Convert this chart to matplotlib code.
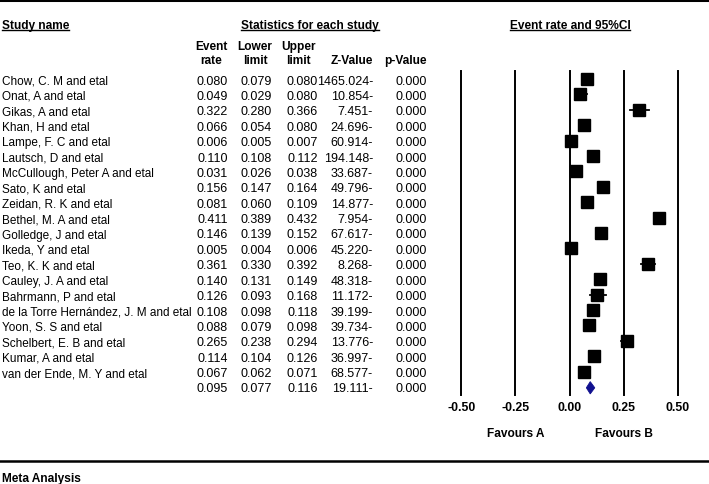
import matplotlib
matplotlib.use("Agg")
import matplotlib.pyplot as plt
from matplotlib.transforms import blended_transform_factory
from matplotlib.lines import Line2D

plt.rcParams['font.family'] = ['Liberation Sans', 'DejaVu Sans']

studies = [
    "Chow, C. M and etal", "Onat, A and etal", "Gikas, A and etal", "Khan, H and etal",
    "Lampe, F. C and etal", "Lautsch, D and etal", "McCullough, Peter A and etal",
    "Sato, K and etal", "Zeidan, R. K and etal", "Bethel, M. A and etal",
    "Golledge, J and etal", "Ikeda, Y and etal", "Teo, K. K and etal",
    "Cauley, J. A and etal", "Bahrmann, P and etal",
    "de la Torre Hernández, J. M and etal", "Yoon, S. S and etal",
    "Schelbert, E. B and etal", "Kumar, A and etal", "van der Ende, M. Y and etal",
]
event_rate = [0.080, 0.049, 0.322, 0.066, 0.006, 0.110, 0.031, 0.156, 0.081, 0.411,
              0.146, 0.005, 0.361, 0.140, 0.126, 0.108, 0.088, 0.265, 0.114, 0.067]
lower = [0.079, 0.029, 0.280, 0.054, 0.005, 0.108, 0.026, 0.147, 0.060, 0.389,
         0.139, 0.004, 0.330, 0.131, 0.093, 0.098, 0.079, 0.238, 0.104, 0.062]
upper = [0.080, 0.080, 0.366, 0.080, 0.007, 0.112, 0.038, 0.164, 0.109, 0.432,
         0.152, 0.006, 0.392, 0.149, 0.168, 0.118, 0.098, 0.294, 0.126, 0.071]
z_value = [1465.024, 10.854, 7.451, 24.696, 60.914, 194.148, 33.687, 49.796, 14.877, 7.954,
           67.617, 45.220, 8.268, 48.318, 11.172, 39.199, 39.734, 13.776, 36.997, 68.577]
p_value = [0.000] * 20

summary_rate = 0.095
summary_lower = 0.077
summary_upper = 0.116
summary_z = 19.111
summary_p = 0.000

x_ticks = [-0.50, -0.25, 0.00, 0.25, 0.50]

W, H = 709, 485
fig = plt.figure(figsize=(W / 100, H / 100), dpi=100)

# forest axes: x from 461.3 to 678 px, y from 72 to 396 px
ax_l, ax_r, ax_t, ax_b = 461.3, 678.0, 72.0, 396.0
ax = fig.add_axes([ax_l / W, 1 - ax_b / H, (ax_r - ax_l) / W, (ax_b - ax_t) / H])
row0, rstep = 80.0, 15.4
ax.set_xlim(-0.5, 0.5)
ax.set_ylim((ax_b - row0) / rstep, (ax_t - row0) / rstep)
for s in ax.spines.values():
    s.set_visible(False)
ax.set_yticks([])
ax.set_xticks(x_ticks)
ax.set_xticklabels([f"{t:.2f}" for t in x_ticks], fontweight='bold', fontsize=8.8)
ax.tick_params(axis='x', length=0, pad=4.5)
for t in x_ticks:
    ax.axvline(t, color='black', lw=1.4, clip_on=False, zorder=1)

n = len(studies)
rows = list(range(n))
for i in rows:
    ax.plot([lower[i], upper[i]], [i, i], color='black', lw=1.3, zorder=2)
ax.plot(event_rate, rows, linestyle='none', marker='s', markersize=9,
        color='black', zorder=3)
# summary diamond
ys = n + 0.05
ax.fill([summary_lower, summary_rate, summary_upper, summary_rate],
        [ys, ys - 0.4, ys, ys + 0.4], color='#10108f', zorder=3, lw=0.6,
        edgecolor='#10108f')

# table text
tr = blended_transform_factory(fig.transFigure, ax.transData)
fs_name = 8.5
fs_num = 9.0
fs_head = 8.6
boff = 4.5 / rstep   # baseline offset (rows) from row centre


def fx(px):
    return px / W


col_right = {'er': 228, 'lo': 272, 'up': 318, 'z': 373, 'p': 427}


def row_nums(i, er, lo, up, z, p):
    y = i + boff
    ax.text(fx(col_right['er']), y, f"{er:.3f}", transform=tr, ha='right', va='baseline', fontsize=fs_num)
    ax.text(fx(col_right['lo']), y, f"{lo:.3f}", transform=tr, ha='right', va='baseline', fontsize=fs_num)
    ax.text(fx(col_right['up']), y, f"{up:.3f}", transform=tr, ha='right', va='baseline', fontsize=fs_num)
    ax.text(fx(col_right['z']), y, f"{z:.3f}-", transform=tr, ha='right', va='baseline', fontsize=fs_num)
    ax.text(fx(col_right['p']), y, f"{p:.3f}", transform=tr, ha='right', va='baseline', fontsize=fs_num)


for i in rows:
    ax.text(fx(2), i + boff, studies[i], transform=tr, ha='left', va='baseline', fontsize=fs_name)
    row_nums(i, event_rate[i], lower[i], upper[i], z_value[i], p_value[i])
row_nums(n, summary_rate, summary_lower, summary_upper, summary_z, summary_p)


def ftext(px, py, s, ha='left', underline=False, fs=fs_head):
    # py is the visual centre of capitals; baseline is ~4.6 px lower
    base = py + 4.6
    t = fig.text(px / W, 1 - base / H, s, ha=ha, va='baseline', fontsize=fs,
                 fontweight='bold')
    if underline:
        fig.canvas.draw()
        bb = t.get_window_extent()
        yl = 1 - (base + 2.0) / H
        fig.add_artist(Line2D([bb.x0 / W, bb.x1 / W], [yl, yl], color='black', lw=1.0,
                              transform=fig.transFigure))
    return t


ftext(2, 24, "Study name", underline=True)
ftext(310, 24, "Statistics for each study", ha='center', underline=True)
ftext(570, 24, "Event rate and 95%CI", ha='center', underline=True)
ftext(211, 45, "Event", ha='center')
ftext(211, 59, "rate", ha='center')
ftext(255, 45, "Lower", ha='center')
ftext(255, 59, "limit", ha='center')
ftext(298, 45, "Upper", ha='center')
ftext(298, 59, "limit", ha='center')
ftext(373, 59, "Z-Value", ha='right')
ftext(427, 59, "p-Value", ha='right')
ftext(516, 432, "Favours A", ha='center')
ftext(624, 432, "Favours B", ha='center')
ftext(2, 477, "Meta Analysis")

# thick rules
fig.add_artist(Line2D([0, 1], [1 - 1.2 / H, 1 - 1.2 / H], color='black', lw=2.2, transform=fig.transFigure))
fig.add_artist(Line2D([0, 1], [1 - 462 / H, 1 - 462 / H], color='black', lw=1.8, transform=fig.transFigure))

fig.savefig("out.png", dpi=100)
